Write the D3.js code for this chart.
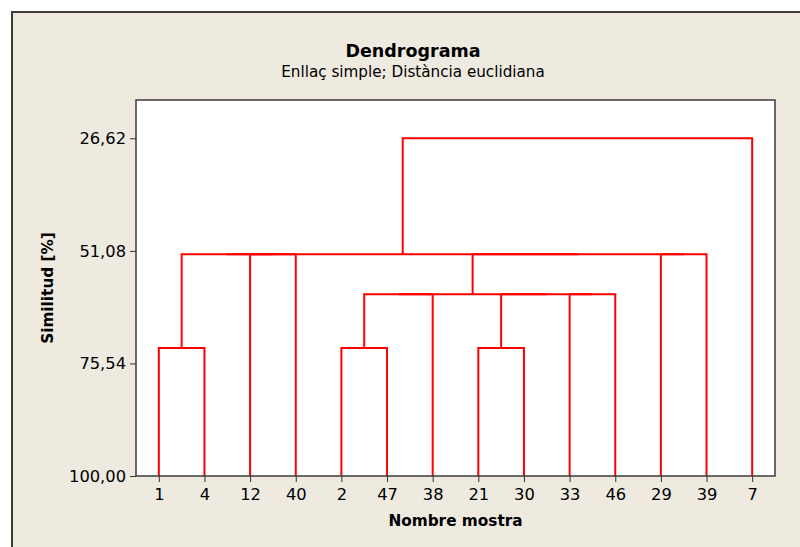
<!DOCTYPE html>
<html>
<head>
<meta charset="utf-8">
<script src="https://cdn.jsdelivr.net/npm/d3@7"></script>
<style>
  html, body { margin: 0; padding: 0; background: #ffffff; }
  svg { display: block; }
</style>
</head>
<body>
<script>
// ---------- data ----------
const titleText = "Dendrograma";
const subtitleText = "Enllaç simple; Distància euclidiana";
const xTitle = "Nombre mostra";
const yTitle = "Similitud [%]";

// leaf order along the x axis
const leaves = ["1", "4", "12", "40", "2", "47", "38", "21", "30", "33", "46", "29", "39", "7"];

// y-axis tick values (similarity, %)
const yTicks = [100.00, 75.54, 51.08, 26.62];
const yAxisTop = 18.3;

// amalgamation steps: left node, right node, new node id, similarity level
const mergeLeft  = ["21", "2",  "1",  "33", "m2", "m1", "m5", "12", "29", "m3", "m7", "m10", "m12"];
const mergeRight = ["30", "47", "4",  "46", "38", "m4", "m6", "40", "39", "m8", "m9", "m11", "7"];
const mergeId    = ["m1", "m2", "m3", "m4", "m5", "m6", "m7", "m8", "m9", "m10", "m11", "m12", "m13"];
const mergeSim   = [72.2, 72.2, 72.2, 60.5, 60.5, 60.5, 60.5, 51.8, 51.8, 51.8, 51.8, 51.8, 26.62];

// ---------- layout ----------
const W = 800, H = 547;
const plot = { left: 136, top: 100, right: 775, bottom: 476 };
const FONT = "'DejaVu Sans', Verdana, sans-serif";

const svg = d3.select("body").append("svg")
  .attr("width", W).attr("height", H);

// outer frame
svg.append("rect").attr("x", 12).attr("y", 12).attr("width", W).attr("height", H)
  .attr("fill", "#eeeae0");
svg.append("path").attr("d", `M12,${H + 2}V12H${W + 2}`)
  .attr("fill", "none").attr("stroke", "#3c3c3c").attr("stroke-width", 2);

// plot background
svg.append("rect")
  .attr("x", plot.left).attr("y", plot.top)
  .attr("width", plot.right - plot.left).attr("height", plot.bottom - plot.top)
  .attr("fill", "#ffffff");

const x = d3.scalePoint().domain(leaves).range([plot.left, plot.right]).padding(0.5);
const y = d3.scaleLinear().domain([100, yAxisTop]).range([plot.bottom, plot.top]);

// build tree nodes
const nodes = new Map();
leaves.forEach(l => nodes.set(l, { x: x(l), s: 100 }));
const links = [];
mergeId.forEach((id, i) => {
  const a = nodes.get(mergeLeft[i]);
  const b = nodes.get(mergeRight[i]);
  const s = mergeSim[i];
  links.push({ a, b, s });
  nodes.set(id, { x: (a.x + b.x) / 2, s });
});

svg.append("g").selectAll("path").data(links).join("path")
  .attr("d", d => `M${d.a.x},${y(d.a.s)}V${y(d.s)}H${d.b.x}V${y(d.b.s)}`)
  .attr("fill", "none")
  .attr("stroke", "#ff0000")
  .attr("stroke-width", 2)
  .attr("stroke-linejoin", "miter");

// plot border
svg.append("rect")
  .attr("x", plot.left).attr("y", plot.top)
  .attr("width", plot.right - plot.left).attr("height", plot.bottom - plot.top)
  .attr("fill", "none").attr("stroke", "#3a3a3a").attr("stroke-width", 1.5);

// axes
const locale = d3.formatLocale({ decimal: ",", thousands: ".", grouping: [3], currency: ["", "€"] });
const fmt = locale.format(".2f");

const yAxis = svg.append("g")
  .attr("transform", `translate(${plot.left},0)`)
  .call(d3.axisLeft(y).tickValues(yTicks).tickFormat(fmt).tickSize(6).tickSizeOuter(0).tickPadding(4));
yAxis.select(".domain").remove();
yAxis.selectAll("line").attr("stroke", "#333");
yAxis.selectAll("text").attr("font-family", FONT).attr("font-size", 16.3).attr("fill", "#000");

const xAxis = svg.append("g")
  .attr("transform", `translate(0,${plot.bottom})`)
  .call(d3.axisBottom(x).tickSize(6).tickSizeOuter(0).tickPadding(6));
xAxis.select(".domain").remove();
xAxis.selectAll("line").attr("stroke", "#333");
xAxis.selectAll("text").attr("font-family", FONT).attr("font-size", 16.3).attr("fill", "#000");

// titles
svg.append("text").attr("x", 413).attr("y", 56.5).attr("text-anchor", "middle")
  .attr("font-family", FONT).attr("font-weight", "bold").attr("font-size", 17.5).attr("fill", "#000")
  .text(titleText);
svg.append("text").attr("x", 413).attr("y", 77).attr("text-anchor", "middle")
  .attr("font-family", FONT).attr("font-size", 15.2).attr("fill", "#000")
  .text(subtitleText);
svg.append("text").attr("x", (plot.left + plot.right) / 2).attr("y", 526).attr("text-anchor", "middle")
  .attr("font-family", FONT).attr("font-weight", "bold").attr("font-size", 15.3).attr("fill", "#000")
  .text(xTitle);
svg.append("text")
  .attr("transform", `translate(53,${(plot.top + plot.bottom) / 2}) rotate(-90)`)
  .attr("text-anchor", "middle")
  .attr("font-family", FONT).attr("font-weight", "bold").attr("font-size", 15.3).attr("fill", "#000")
  .text(yTitle);
</script>
</body>
</html>
